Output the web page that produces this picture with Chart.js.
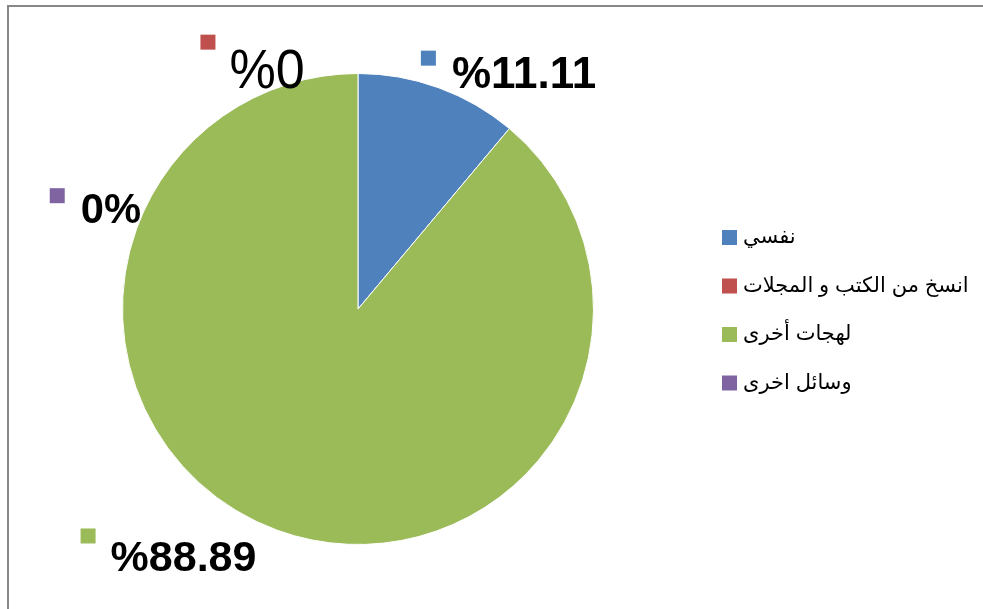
<!DOCTYPE html>
<html>
<head>
<meta charset="utf-8">
<script src="https://cdn.jsdelivr.net/npm/chart.js@4.4.1/dist/chart.umd.min.js"></script>
<style>
    html, body { margin: 0; padding: 0; background: #ffffff; }
    .wrap { position: relative; width: 983px; height: 609px; overflow: hidden; }
    .frame {
        position: absolute; left: 7px; top: 5px; width: 1000px; height: 700px;
        border-left: 2px solid #878787; border-top: 2px solid #878787;
    }
    canvas { position: absolute; left: 0; top: 0; }
</style>
</head>
<body>
<div class="wrap">
    <div class="frame"></div>
    <canvas id="sourcesChart" width="983" height="609"></canvas>
</div>
<script>
// --- Data ---
const categories = ['نفسي', 'انسخ من الكتب و المجلات', 'لهجات أخرى', 'وسائل اخرى'];
const percentages = [11.11, 0, 88.89, 0];
const valueLabels = ['%11.11', '%0', '%88.89', '0%'];
const sliceColors = ['#4F81BD', '#C0504D', '#9BBB59', '#8064A2'];

// where each value label sits, in units of the pie radius from its centre
const labelLayout = [
    { dx: 0.267, dy: -1.097, size: 44, bold: true, sx: 1, tx: 31, ty: 37 },
    { dx: -0.669, dy: -1.165, size: 56, bold: false, sx: 0.93, tx: 29, ty: 53 },
    { dx: -1.178, dy: 0.932, size: 43, bold: true, sx: 1, tx: 30, ty: 43 },
    { dx: -1.309, dy: -0.513, size: 43, bold: true, sx: 0.97, tx: 31, ty: 35 }
];

// value labels with a small colour key next to each one
const valueLabelPlugin = {
    id: 'valueLabels',
    afterDatasetsDraw(chart) {
        const ctx = chart.ctx;
        const arcs = chart.getDatasetMeta(0).data;
        arcs.forEach((arc, i) => {
            const l = labelLayout[i];
            const r = arc.outerRadius;
            const sqX = arc.x + l.dx * r;
            const sqY = arc.y + l.dy * r;
            ctx.save();
            ctx.fillStyle = sliceColors[i];
            ctx.fillRect(sqX, sqY, 15, 15);
            ctx.translate(sqX + l.tx, sqY + l.ty);
            ctx.scale(l.sx, 1);
            ctx.fillStyle = '#000000';
            ctx.textAlign = 'left';
            ctx.textBaseline = 'alphabetic';
            ctx.font = (l.bold ? 'bold ' : '') + l.size + 'px "Liberation Sans", Arial, sans-serif';
            ctx.fillText(valueLabels[i], 0, 0);
            ctx.restore();
        });
    }
};

// legend on the right, one row per category
const sideLegendPlugin = {
    id: 'sideLegend',
    afterDraw(chart) {
        const ctx = chart.ctx;
        const x = 722, top = 230, step = 48.5, box = 15;
        ctx.save();
        chart.data.labels.forEach((label, i) => {
            const y = top + i * step;
            ctx.fillStyle = chart.data.datasets[0].backgroundColor[i];
            ctx.fillRect(x, y, box, box);
            ctx.fillStyle = '#000000';
            ctx.font = '21px Arial, "DejaVu Sans", sans-serif';
            ctx.textAlign = 'left';
            ctx.textBaseline = 'middle';
            ctx.fillText(label, x + box + 6, y + box / 2);
        });
        ctx.restore();
    }
};

const ctx = document.getElementById('sourcesChart');
new Chart(ctx, {
    type: 'pie',
    data: {
        labels: categories,
        datasets: [{
            data: percentages,
            backgroundColor: sliceColors,
            borderColor: '#ffffff',
            borderWidth: 1
        }]
    },
    options: {
        responsive: false,
        animation: false,
        layout: { padding: { left: 0, right: 267, top: 73, bottom: 64 } },
        plugins: {
            legend: { display: false },
            tooltip: { enabled: false }
        }
    },
    plugins: [valueLabelPlugin, sideLegendPlugin]
});
</script>
</body>
</html>
